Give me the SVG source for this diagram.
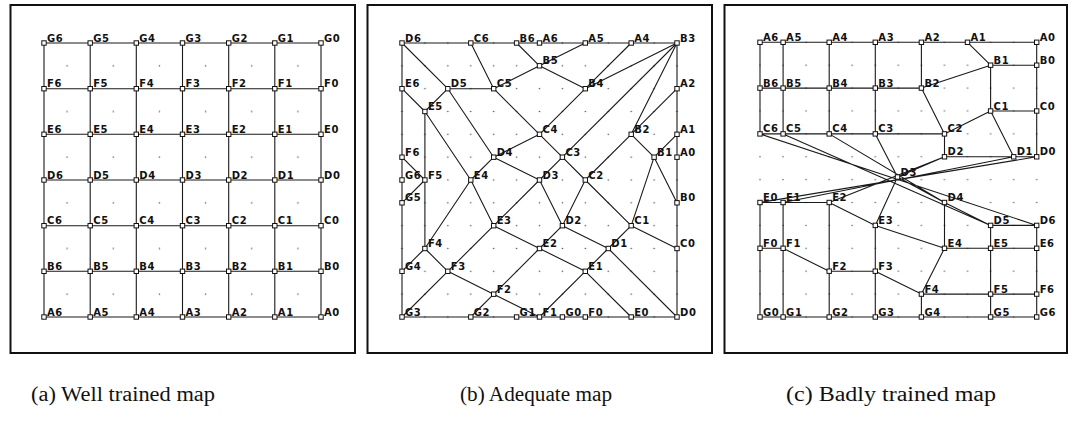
<svg xmlns="http://www.w3.org/2000/svg" xmlns:xlink="http://www.w3.org/1999/xlink" width="1070" height="427" viewBox="0 0 1070 427">
  <style>
    .frame { fill: none; stroke: #111; stroke-width: 2; }
    .edge { fill: none; stroke: #1a1a1a; stroke-width: 1.1; stroke-linejoin: round; }
    .nd { fill: #fff; stroke: #111; stroke-width: 1; }
    .lbl { font-family: "DejaVu Sans", "Liberation Sans", sans-serif; font-weight: bold; font-size: 10px; letter-spacing: 0.6px; fill: #111; }
    .cap { font-family: "Liberation Serif", "DejaVu Serif", serif; font-size: 20px; fill: #111; text-anchor: middle; }
  </style>
  <defs>
    <rect id="n" x="-2.2" y="-2.2" width="4.4" height="4.4" class="nd"/>
    <pattern id="dotsA" patternUnits="userSpaceOnUse" x="44" y="43" width="46.17" height="45.67">
      <circle cx="23.08" cy="22.83" r="0.8" fill="#555"/>
    </pattern>
    <pattern id="dotsB" patternUnits="userSpaceOnUse" x="390.54" y="31.58" width="22.92" height="22.83">
      <circle cx="11.46" cy="11.42" r="0.8" fill="#555"/>
    </pattern>
    <pattern id="dotsC" patternUnits="userSpaceOnUse" x="748.47" y="30.85" width="23.06" height="22.89">
      <circle cx="11.53" cy="11.45" r="0.8" fill="#666"/>
    </pattern>
  </defs>
  <rect width="1070" height="427" fill="#fff"/>

  <!-- panel frames -->
  <rect class="frame" x="10.5" y="5" width="344.5" height="348"/>
  <rect class="frame" x="367.5" y="5" width="344.5" height="348"/>
  <rect class="frame" x="724.5" y="5" width="342.5" height="348"/>

  <!-- sample points -->
  <rect x="44" y="43" width="277" height="274" fill="url(#dotsA)"/>
  <rect x="391" y="32" width="297" height="296" fill="url(#dotsB)"/>
  <rect x="749" y="31" width="299" height="297" fill="url(#dotsC)"/>

  <!-- lattice connections -->
  <g id="connectors">
    <path class="edge" d="M44 43H321M44 88.7H321M44 134.3H321M44 180H321M44 225.7H321M44 271.3H321M44 317H321M44 43V317M90.2 43V317M136.3 43V317M182.5 43V317M228.7 43V317M274.8 43V317M321 43V317"/>
    <path class="edge" d="M539.5 43L585.3 43L631.2 43L677 43L677 88.7L677 134.3L677 157.2
      M516.6 43L539.5 65.8L585.3 88.7L677 43L631.2 134.3L654.1 157.2L677 202.8
      M470.8 43L493.7 88.7L539.5 134.3L562.4 157.2L585.3 180L631.2 225.7L677 248.5
      M402 43L447.8 88.7L493.7 157.2L539.5 180L562.4 225.7L608.3 248.5L677 317
      M402 88.7L424.9 111.5L470.8 180L493.7 225.7L539.5 248.5L585.3 271.3L631.2 317
      M402 157.2L424.9 180L424.9 248.5L447.8 271.3L493.7 294.2L539.5 317L585.3 317
      M402 180L402 202.8L402 271.3L402 317L470.8 317L516.6 317L562.4 317
      M539.5 43L516.6 43L470.8 43L402 43L402 88.7L402 157.2L402 180
      M585.3 43L539.5 65.8L493.7 88.7L447.8 88.7L424.9 111.5L424.9 180L402 202.8
      M631.2 43L585.3 88.7L539.5 134.3L493.7 157.2L470.8 180L424.9 248.5L402 271.3
      M677 43L562.4 157.2L539.5 180L493.7 225.7L447.8 271.3L402 317
      M677 88.7L631.2 134.3L585.3 180L562.4 225.7L539.5 248.5L493.7 294.2L470.8 317
      M677 134.3L654.1 157.2L631.2 225.7L608.3 248.5L585.3 271.3L539.5 317L516.6 317
      M677 157.2L677 202.8L677 248.5L677 317L631.2 317L585.3 317L562.4 317"/>
    <path class="edge" d="M760 42.3L1036.7 42.3
      M760 88.1L921.4 88.1L990.6 65.2L1036.7 65.2
      M760 133.9L944.5 133.9L990.6 111L1036.7 111
      M1036.7 225.4L990.6 225.4L944.5 202.5L897.5 177L944.5 156.8L1036.7 156.8
      M1036.7 248.3L944.5 248.3L875.3 225.4L829.2 202.5L760 202.5
      M1036.7 294.1L921.4 294.1L875.3 271.2L829.2 271.2L783.1 248.3L760 248.3
      M1036.7 317L760 317
      M760 42.3L760 133.9L1036.7 225.4L1036.7 317
      M783.1 42.3L783.1 133.9L990.6 225.4L990.6 317
      M829.2 42.3L829.2 133.9L944.5 202.5L944.5 248.3L921.4 294.1L921.4 317
      M875.3 42.3L875.3 133.9L897.5 177L875.3 225.4L875.3 317
      M921.4 42.3L921.4 88.1L944.5 133.9L944.5 156.8L829.2 202.5L829.2 317
      M967.5 42.3L990.6 65.2L990.6 111L1013.7 156.8L783.1 202.5L783.1 317
      M1036.7 42.3L1036.7 156.8L760 202.5L760 317"/>
  </g>

  <!-- (a) well trained map -->
  <g id="a-G6"><use href="#n" x="44" y="43"/><text class="lbl" x="47" y="41.5">G6</text></g>
  <g id="a-G5"><use href="#n" x="90.2" y="43"/><text class="lbl" x="93.2" y="41.5">G5</text></g>
  <g id="a-G4"><use href="#n" x="136.3" y="43"/><text class="lbl" x="139.3" y="41.5">G4</text></g>
  <g id="a-G3"><use href="#n" x="182.5" y="43"/><text class="lbl" x="185.5" y="41.5">G3</text></g>
  <g id="a-G2"><use href="#n" x="228.7" y="43"/><text class="lbl" x="231.7" y="41.5">G2</text></g>
  <g id="a-G1"><use href="#n" x="274.8" y="43"/><text class="lbl" x="277.8" y="41.5">G1</text></g>
  <g id="a-G0"><use href="#n" x="321" y="43"/><text class="lbl" x="324" y="41.5">G0</text></g>
  <g id="a-F6"><use href="#n" x="44" y="88.7"/><text class="lbl" x="47" y="87.2">F6</text></g>
  <g id="a-F5"><use href="#n" x="90.2" y="88.7"/><text class="lbl" x="93.2" y="87.2">F5</text></g>
  <g id="a-F4"><use href="#n" x="136.3" y="88.7"/><text class="lbl" x="139.3" y="87.2">F4</text></g>
  <g id="a-F3"><use href="#n" x="182.5" y="88.7"/><text class="lbl" x="185.5" y="87.2">F3</text></g>
  <g id="a-F2"><use href="#n" x="228.7" y="88.7"/><text class="lbl" x="231.7" y="87.2">F2</text></g>
  <g id="a-F1"><use href="#n" x="274.8" y="88.7"/><text class="lbl" x="277.8" y="87.2">F1</text></g>
  <g id="a-F0"><use href="#n" x="321" y="88.7"/><text class="lbl" x="324" y="87.2">F0</text></g>
  <g id="a-E6"><use href="#n" x="44" y="134.3"/><text class="lbl" x="47" y="132.8">E6</text></g>
  <g id="a-E5"><use href="#n" x="90.2" y="134.3"/><text class="lbl" x="93.2" y="132.8">E5</text></g>
  <g id="a-E4"><use href="#n" x="136.3" y="134.3"/><text class="lbl" x="139.3" y="132.8">E4</text></g>
  <g id="a-E3"><use href="#n" x="182.5" y="134.3"/><text class="lbl" x="185.5" y="132.8">E3</text></g>
  <g id="a-E2"><use href="#n" x="228.7" y="134.3"/><text class="lbl" x="231.7" y="132.8">E2</text></g>
  <g id="a-E1"><use href="#n" x="274.8" y="134.3"/><text class="lbl" x="277.8" y="132.8">E1</text></g>
  <g id="a-E0"><use href="#n" x="321" y="134.3"/><text class="lbl" x="324" y="132.8">E0</text></g>
  <g id="a-D6"><use href="#n" x="44" y="180"/><text class="lbl" x="47" y="178.5">D6</text></g>
  <g id="a-D5"><use href="#n" x="90.2" y="180"/><text class="lbl" x="93.2" y="178.5">D5</text></g>
  <g id="a-D4"><use href="#n" x="136.3" y="180"/><text class="lbl" x="139.3" y="178.5">D4</text></g>
  <g id="a-D3"><use href="#n" x="182.5" y="180"/><text class="lbl" x="185.5" y="178.5">D3</text></g>
  <g id="a-D2"><use href="#n" x="228.7" y="180"/><text class="lbl" x="231.7" y="178.5">D2</text></g>
  <g id="a-D1"><use href="#n" x="274.8" y="180"/><text class="lbl" x="277.8" y="178.5">D1</text></g>
  <g id="a-D0"><use href="#n" x="321" y="180"/><text class="lbl" x="324" y="178.5">D0</text></g>
  <g id="a-C6"><use href="#n" x="44" y="225.7"/><text class="lbl" x="47" y="224.2">C6</text></g>
  <g id="a-C5"><use href="#n" x="90.2" y="225.7"/><text class="lbl" x="93.2" y="224.2">C5</text></g>
  <g id="a-C4"><use href="#n" x="136.3" y="225.7"/><text class="lbl" x="139.3" y="224.2">C4</text></g>
  <g id="a-C3"><use href="#n" x="182.5" y="225.7"/><text class="lbl" x="185.5" y="224.2">C3</text></g>
  <g id="a-C2"><use href="#n" x="228.7" y="225.7"/><text class="lbl" x="231.7" y="224.2">C2</text></g>
  <g id="a-C1"><use href="#n" x="274.8" y="225.7"/><text class="lbl" x="277.8" y="224.2">C1</text></g>
  <g id="a-C0"><use href="#n" x="321" y="225.7"/><text class="lbl" x="324" y="224.2">C0</text></g>
  <g id="a-B6"><use href="#n" x="44" y="271.3"/><text class="lbl" x="47" y="269.8">B6</text></g>
  <g id="a-B5"><use href="#n" x="90.2" y="271.3"/><text class="lbl" x="93.2" y="269.8">B5</text></g>
  <g id="a-B4"><use href="#n" x="136.3" y="271.3"/><text class="lbl" x="139.3" y="269.8">B4</text></g>
  <g id="a-B3"><use href="#n" x="182.5" y="271.3"/><text class="lbl" x="185.5" y="269.8">B3</text></g>
  <g id="a-B2"><use href="#n" x="228.7" y="271.3"/><text class="lbl" x="231.7" y="269.8">B2</text></g>
  <g id="a-B1"><use href="#n" x="274.8" y="271.3"/><text class="lbl" x="277.8" y="269.8">B1</text></g>
  <g id="a-B0"><use href="#n" x="321" y="271.3"/><text class="lbl" x="324" y="269.8">B0</text></g>
  <g id="a-A6"><use href="#n" x="44" y="317"/><text class="lbl" x="47" y="315.5">A6</text></g>
  <g id="a-A5"><use href="#n" x="90.2" y="317"/><text class="lbl" x="93.2" y="315.5">A5</text></g>
  <g id="a-A4"><use href="#n" x="136.3" y="317"/><text class="lbl" x="139.3" y="315.5">A4</text></g>
  <g id="a-A3"><use href="#n" x="182.5" y="317"/><text class="lbl" x="185.5" y="315.5">A3</text></g>
  <g id="a-A2"><use href="#n" x="228.7" y="317"/><text class="lbl" x="231.7" y="315.5">A2</text></g>
  <g id="a-A1"><use href="#n" x="274.8" y="317"/><text class="lbl" x="277.8" y="315.5">A1</text></g>
  <g id="a-A0"><use href="#n" x="321" y="317"/><text class="lbl" x="324" y="315.5">A0</text></g>

  <!-- (b) adequate map -->
  <g id="b-D6"><use href="#n" x="402" y="43"/><text class="lbl" x="405" y="41.5">D6</text></g>
  <g id="b-C6"><use href="#n" x="470.8" y="43"/><text class="lbl" x="473.8" y="41.5">C6</text></g>
  <g id="b-B6"><use href="#n" x="516.6" y="43"/><text class="lbl" x="519.6" y="41.5">B6</text></g>
  <g id="b-A6"><use href="#n" x="539.5" y="43"/><text class="lbl" x="542.5" y="41.5">A6</text></g>
  <g id="b-A5"><use href="#n" x="585.3" y="43"/><text class="lbl" x="588.3" y="41.5">A5</text></g>
  <g id="b-A4"><use href="#n" x="631.2" y="43"/><text class="lbl" x="634.2" y="41.5">A4</text></g>
  <g id="b-B3"><use href="#n" x="677" y="43"/><text class="lbl" x="680" y="41.5">B3</text></g>
  <g id="b-B5"><use href="#n" x="539.5" y="65.8"/><text class="lbl" x="542.5" y="64.3">B5</text></g>
  <g id="b-E6"><use href="#n" x="402" y="88.7"/><text class="lbl" x="405" y="87.2">E6</text></g>
  <g id="b-D5"><use href="#n" x="447.8" y="88.7"/><text class="lbl" x="450.8" y="87.2">D5</text></g>
  <g id="b-C5"><use href="#n" x="493.7" y="88.7"/><text class="lbl" x="496.7" y="87.2">C5</text></g>
  <g id="b-B4"><use href="#n" x="585.3" y="88.7"/><text class="lbl" x="588.3" y="87.2">B4</text></g>
  <g id="b-A2"><use href="#n" x="677" y="88.7"/><text class="lbl" x="680" y="87.2">A2</text></g>
  <g id="b-E5"><use href="#n" x="424.9" y="111.5"/><text class="lbl" x="427.9" y="110">E5</text></g>
  <g id="b-C4"><use href="#n" x="539.5" y="134.3"/><text class="lbl" x="542.5" y="132.8">C4</text></g>
  <g id="b-B2"><use href="#n" x="631.2" y="134.3"/><text class="lbl" x="634.2" y="132.8">B2</text></g>
  <g id="b-A1"><use href="#n" x="677" y="134.3"/><text class="lbl" x="680" y="132.8">A1</text></g>
  <g id="b-F6"><use href="#n" x="402" y="157.2"/><text class="lbl" x="405" y="155.7">F6</text></g>
  <g id="b-D4"><use href="#n" x="493.7" y="157.2"/><text class="lbl" x="496.7" y="155.7">D4</text></g>
  <g id="b-C3"><use href="#n" x="562.4" y="157.2"/><text class="lbl" x="565.4" y="155.7">C3</text></g>
  <g id="b-B1"><use href="#n" x="654.1" y="157.2"/><text class="lbl" x="657.1" y="155.7">B1</text></g>
  <g id="b-A0"><use href="#n" x="677" y="157.2"/><text class="lbl" x="680" y="155.7">A0</text></g>
  <g id="b-G6"><use href="#n" x="402" y="180"/><text class="lbl" x="405" y="178.5">G6</text></g>
  <g id="b-F5"><use href="#n" x="424.9" y="180"/><text class="lbl" x="427.9" y="178.5">F5</text></g>
  <g id="b-E4"><use href="#n" x="470.8" y="180"/><text class="lbl" x="473.8" y="178.5">E4</text></g>
  <g id="b-D3"><use href="#n" x="539.5" y="180"/><text class="lbl" x="542.5" y="178.5">D3</text></g>
  <g id="b-C2"><use href="#n" x="585.3" y="180"/><text class="lbl" x="588.3" y="178.5">C2</text></g>
  <g id="b-G5"><use href="#n" x="402" y="202.8"/><text class="lbl" x="405" y="201.3">G5</text></g>
  <g id="b-B0"><use href="#n" x="677" y="202.8"/><text class="lbl" x="680" y="201.3">B0</text></g>
  <g id="b-E3"><use href="#n" x="493.7" y="225.7"/><text class="lbl" x="496.7" y="224.2">E3</text></g>
  <g id="b-D2"><use href="#n" x="562.4" y="225.7"/><text class="lbl" x="565.4" y="224.2">D2</text></g>
  <g id="b-C1"><use href="#n" x="631.2" y="225.7"/><text class="lbl" x="634.2" y="224.2">C1</text></g>
  <g id="b-F4"><use href="#n" x="424.9" y="248.5"/><text class="lbl" x="427.9" y="247">F4</text></g>
  <g id="b-E2"><use href="#n" x="539.5" y="248.5"/><text class="lbl" x="542.5" y="247">E2</text></g>
  <g id="b-D1"><use href="#n" x="608.3" y="248.5"/><text class="lbl" x="611.3" y="247">D1</text></g>
  <g id="b-C0"><use href="#n" x="677" y="248.5"/><text class="lbl" x="680" y="247">C0</text></g>
  <g id="b-G4"><use href="#n" x="402" y="271.3"/><text class="lbl" x="405" y="269.8">G4</text></g>
  <g id="b-F3"><use href="#n" x="447.8" y="271.3"/><text class="lbl" x="450.8" y="269.8">F3</text></g>
  <g id="b-E1"><use href="#n" x="585.3" y="271.3"/><text class="lbl" x="588.3" y="269.8">E1</text></g>
  <g id="b-F2"><use href="#n" x="493.7" y="294.2"/><text class="lbl" x="496.7" y="292.7">F2</text></g>
  <g id="b-G3"><use href="#n" x="402" y="317"/><text class="lbl" x="405" y="315.5">G3</text></g>
  <g id="b-G2"><use href="#n" x="470.8" y="317"/><text class="lbl" x="473.8" y="315.5">G2</text></g>
  <g id="b-G1"><use href="#n" x="516.6" y="317"/><text class="lbl" x="519.6" y="315.5">G1</text></g>
  <g id="b-F1"><use href="#n" x="539.5" y="317"/><text class="lbl" x="542.5" y="315.5">F1</text></g>
  <g id="b-G0"><use href="#n" x="562.4" y="317"/><text class="lbl" x="565.4" y="315.5">G0</text></g>
  <g id="b-F0"><use href="#n" x="585.3" y="317"/><text class="lbl" x="588.3" y="315.5">F0</text></g>
  <g id="b-E0"><use href="#n" x="631.2" y="317"/><text class="lbl" x="634.2" y="315.5">E0</text></g>
  <g id="b-D0"><use href="#n" x="677" y="317"/><text class="lbl" x="680" y="315.5">D0</text></g>

  <!-- (c) badly trained map -->
  <g id="c-A6"><use href="#n" x="760" y="42.3"/><text class="lbl" x="763" y="40.8">A6</text></g>
  <g id="c-A5"><use href="#n" x="783.1" y="42.3"/><text class="lbl" x="786.1" y="40.8">A5</text></g>
  <g id="c-A4"><use href="#n" x="829.2" y="42.3"/><text class="lbl" x="832.2" y="40.8">A4</text></g>
  <g id="c-A3"><use href="#n" x="875.3" y="42.3"/><text class="lbl" x="878.3" y="40.8">A3</text></g>
  <g id="c-A2"><use href="#n" x="921.4" y="42.3"/><text class="lbl" x="924.4" y="40.8">A2</text></g>
  <g id="c-A1"><use href="#n" x="967.5" y="42.3"/><text class="lbl" x="970.5" y="40.8">A1</text></g>
  <g id="c-A0"><use href="#n" x="1036.7" y="42.3"/><text class="lbl" x="1039.7" y="40.8">A0</text></g>
  <g id="c-B1"><use href="#n" x="990.6" y="65.2"/><text class="lbl" x="993.6" y="63.7">B1</text></g>
  <g id="c-B0"><use href="#n" x="1036.7" y="65.2"/><text class="lbl" x="1039.7" y="63.7">B0</text></g>
  <g id="c-B6"><use href="#n" x="760" y="88.1"/><text class="lbl" x="763" y="86.6">B6</text></g>
  <g id="c-B5"><use href="#n" x="783.1" y="88.1"/><text class="lbl" x="786.1" y="86.6">B5</text></g>
  <g id="c-B4"><use href="#n" x="829.2" y="88.1"/><text class="lbl" x="832.2" y="86.6">B4</text></g>
  <g id="c-B3"><use href="#n" x="875.3" y="88.1"/><text class="lbl" x="878.3" y="86.6">B3</text></g>
  <g id="c-B2"><use href="#n" x="921.4" y="88.1"/><text class="lbl" x="924.4" y="86.6">B2</text></g>
  <g id="c-C1"><use href="#n" x="990.6" y="111"/><text class="lbl" x="993.6" y="109.5">C1</text></g>
  <g id="c-C0"><use href="#n" x="1036.7" y="111"/><text class="lbl" x="1039.7" y="109.5">C0</text></g>
  <g id="c-C6"><use href="#n" x="760" y="133.9"/><text class="lbl" x="763" y="132.4">C6</text></g>
  <g id="c-C5"><use href="#n" x="783.1" y="133.9"/><text class="lbl" x="786.1" y="132.4">C5</text></g>
  <g id="c-C4"><use href="#n" x="829.2" y="133.9"/><text class="lbl" x="832.2" y="132.4">C4</text></g>
  <g id="c-C3"><use href="#n" x="875.3" y="133.9"/><text class="lbl" x="878.3" y="132.4">C3</text></g>
  <g id="c-C2"><use href="#n" x="944.5" y="133.9"/><text class="lbl" x="947.5" y="132.4">C2</text></g>
  <g id="c-D2"><use href="#n" x="944.5" y="156.8"/><text class="lbl" x="947.5" y="155.3">D2</text></g>
  <g id="c-D1"><use href="#n" x="1013.7" y="156.8"/><text class="lbl" x="1016.7" y="155.3">D1</text></g>
  <g id="c-D0"><use href="#n" x="1036.7" y="156.8"/><text class="lbl" x="1039.7" y="155.3">D0</text></g>
  <g id="c-D3"><use href="#n" x="897.5" y="177"/><text class="lbl" x="900.5" y="175.5">D3</text></g>
  <g id="c-D4"><use href="#n" x="944.5" y="202.5"/><text class="lbl" x="947.5" y="201">D4</text></g>
  <g id="c-E0"><use href="#n" x="760" y="202.5"/><text class="lbl" x="763" y="201">E0</text></g>
  <g id="c-E1"><use href="#n" x="783.1" y="202.5"/><text class="lbl" x="786.1" y="201">E1</text></g>
  <g id="c-E2"><use href="#n" x="829.2" y="202.5"/><text class="lbl" x="832.2" y="201">E2</text></g>
  <g id="c-D5"><use href="#n" x="990.6" y="225.4"/><text class="lbl" x="993.6" y="223.9">D5</text></g>
  <g id="c-D6"><use href="#n" x="1036.7" y="225.4"/><text class="lbl" x="1039.7" y="223.9">D6</text></g>
  <g id="c-E3"><use href="#n" x="875.3" y="225.4"/><text class="lbl" x="878.3" y="223.9">E3</text></g>
  <g id="c-F0"><use href="#n" x="760" y="248.3"/><text class="lbl" x="763" y="246.8">F0</text></g>
  <g id="c-F1"><use href="#n" x="783.1" y="248.3"/><text class="lbl" x="786.1" y="246.8">F1</text></g>
  <g id="c-E4"><use href="#n" x="944.5" y="248.3"/><text class="lbl" x="947.5" y="246.8">E4</text></g>
  <g id="c-E5"><use href="#n" x="990.6" y="248.3"/><text class="lbl" x="993.6" y="246.8">E5</text></g>
  <g id="c-E6"><use href="#n" x="1036.7" y="248.3"/><text class="lbl" x="1039.7" y="246.8">E6</text></g>
  <g id="c-F2"><use href="#n" x="829.2" y="271.2"/><text class="lbl" x="832.2" y="269.7">F2</text></g>
  <g id="c-F3"><use href="#n" x="875.3" y="271.2"/><text class="lbl" x="878.3" y="269.7">F3</text></g>
  <g id="c-F4"><use href="#n" x="921.4" y="294.1"/><text class="lbl" x="924.4" y="292.6">F4</text></g>
  <g id="c-F5"><use href="#n" x="990.6" y="294.1"/><text class="lbl" x="993.6" y="292.6">F5</text></g>
  <g id="c-F6"><use href="#n" x="1036.7" y="294.1"/><text class="lbl" x="1039.7" y="292.6">F6</text></g>
  <g id="c-G0"><use href="#n" x="760" y="317"/><text class="lbl" x="763" y="315.5">G0</text></g>
  <g id="c-G1"><use href="#n" x="783.1" y="317"/><text class="lbl" x="786.1" y="315.5">G1</text></g>
  <g id="c-G2"><use href="#n" x="829.2" y="317"/><text class="lbl" x="832.2" y="315.5">G2</text></g>
  <g id="c-G3"><use href="#n" x="875.3" y="317"/><text class="lbl" x="878.3" y="315.5">G3</text></g>
  <g id="c-G4"><use href="#n" x="921.4" y="317"/><text class="lbl" x="924.4" y="315.5">G4</text></g>
  <g id="c-G5"><use href="#n" x="990.6" y="317"/><text class="lbl" x="993.6" y="315.5">G5</text></g>
  <g id="c-G6"><use href="#n" x="1036.7" y="317"/><text class="lbl" x="1039.7" y="315.5">G6</text></g>

  <!-- captions -->
  <text class="cap" x="123" y="401" textLength="184" lengthAdjust="spacingAndGlyphs">(a) Well trained map</text>
  <text class="cap" x="536" y="401" textLength="152" lengthAdjust="spacingAndGlyphs">(b) Adequate map</text>
  <text class="cap" x="891" y="401" textLength="210" lengthAdjust="spacingAndGlyphs">(c) Badly trained map</text>
</svg>
